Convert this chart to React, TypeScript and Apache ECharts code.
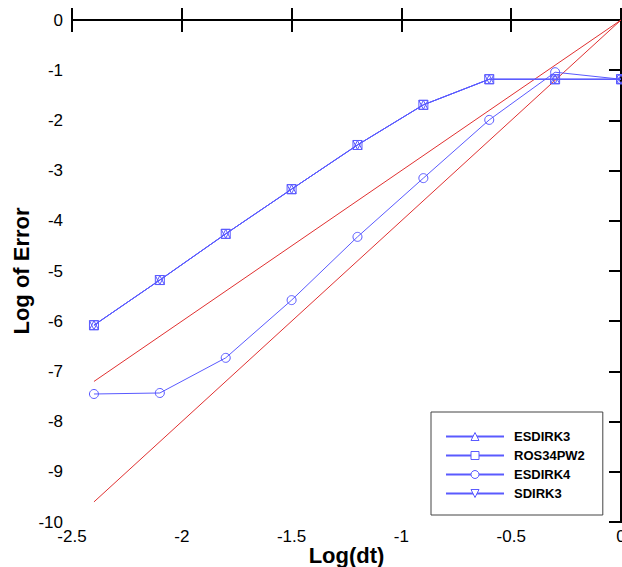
import React, { useEffect, useRef } from "react";
import * as echarts from "echarts";

const logDt = [-2.4, -2.1, -1.8, -1.5, -1.2, -0.9, -0.6, -0.3, 0.0];
const esdirk3 = [-6.08, -5.18, -4.26, -3.37, -2.49, -1.69, -1.18, -1.18, -1.18];
const ros34pw2 = [-6.08, -5.18, -4.26, -3.37, -2.49, -1.69, -1.18, -1.18, -1.18];
const esdirk4 = [-7.45, -7.43, -6.73, -5.58, -4.32, -3.15, -1.99, -1.04, -1.18];
const sdirk3 = [-6.08, -5.18, -4.26, -3.37, -2.49, -1.69, -1.18, -1.18, -1.18];
const refX = [-2.4, 0.0];
const slope3 = [-7.2, 0.0];
const slope4 = [-9.6, 0.0];

const BLUE = "#5a5aff";
const FONT = "'Liberation Sans', Arial, sans-serif";

export default function App() {
  const ref = useRef<HTMLDivElement>(null);
  useEffect(() => {
    const chart = echarts.init(ref.current!, null, { renderer: "svg" });
    const pair = (xs: number[], ys: number[]) => xs.map((x, i) => [x, ys[i]]);
    const mk = (name: string, symbol: string, ys: number[]) => ({
      name,
      type: "line",
      data: pair(logDt, ys),
      symbol,
      symbolSize: 9,
      showSymbol: true,
      lineStyle: { color: BLUE, width: 1 },
      itemStyle: { color: "transparent", borderColor: BLUE, borderWidth: 1 },
      emphasis: { disabled: true },
      z: 3,
    });
    const red = (ys: number[]) => ({
      type: "line",
      data: pair(refX, ys),
      symbol: "none",
      lineStyle: { color: "#e03030", width: 1 },
      emphasis: { disabled: true },
      z: 2,
    });
    const tickCommon = {
      axisLine: { show: true, lineStyle: { color: "#000", width: 2 } },
      axisTick: { show: true, inside: true, length: 12, lineStyle: { color: "#000", width: 2 } },
      splitLine: { show: false },
    };
    chart.setOption({
      animation: false,
      backgroundColor: "#fff",
      grid: { left: 72, right: 1, top: 20, bottom: 45, outerBoundsMode: "none", containLabel: false },
      xAxis: [
        {
          type: "value",
          min: -2.5,
          max: 0,
          interval: 0.5,
          ...tickCommon,
          axisLabel: { color: "#000", fontSize: 17, fontFamily: FONT, margin: 6 },
          name: "Log(dt)",
          nameLocation: "middle",
          nameMoveOverlap: false,
          nameGap: 22,
          nameTextStyle: { color: "#000", fontSize: 22, fontWeight: "bold", fontFamily: FONT },
        },
        {
          type: "value",
          position: "top",
          min: -2.5,
          max: 0,
          interval: 0.5,
          ...tickCommon,
          axisLabel: { show: false },
        },
      ],
      yAxis: [
        {
          type: "value",
          min: -10,
          max: 0,
          interval: 1,
          ...tickCommon,
          axisLabel: { color: "#000", fontSize: 17, fontFamily: FONT, margin: 9 },
          name: "Log of Error",
          nameLocation: "middle",
          nameMoveOverlap: false,
          nameGap: 40,
          nameTextStyle: { color: "#000", fontSize: 22, fontWeight: "bold", fontFamily: FONT },
        },
        {
          type: "value",
          position: "right",
          min: -10,
          max: 0,
          interval: 1,
          ...tickCommon,
          axisLabel: { show: false },
        },
      ],
      legend: {
        data: ["ESDIRK3", "ROS34PW2", "ESDIRK4", "SDIRK3"],
        orient: "vertical",
        left: 431,
        top: 412,
        itemWidth: 58,
        itemHeight: 10,
        itemGap: 6,
        padding: [18, 18, 15, 14],
        borderColor: "#444",
        borderWidth: 1,
        backgroundColor: "#fff",
        selectedMode: false,
        itemStyle: { color: "#fff", borderColor: BLUE, borderWidth: 1 },
        textStyle: { color: "#000", fontSize: 13, fontWeight: "bold", fontFamily: FONT, padding: [0, 0, 0, 5] },
      },
      series: [
        red(slope3),
        red(slope4),
        mk("ESDIRK3", "triangle", esdirk3),
        mk("ROS34PW2", "rect", ros34pw2),
        mk("ESDIRK4", "circle", esdirk4),
        mk("SDIRK3", "path://M0,0L10,0L5,9Z", sdirk3),
      ],
    });
    return () => chart.dispose();
  }, []);
  return (
    <div
      ref={ref}
      style={{ position: "absolute", left: 0, top: 0, width: 622, height: 567 }}
    />
  );
}
